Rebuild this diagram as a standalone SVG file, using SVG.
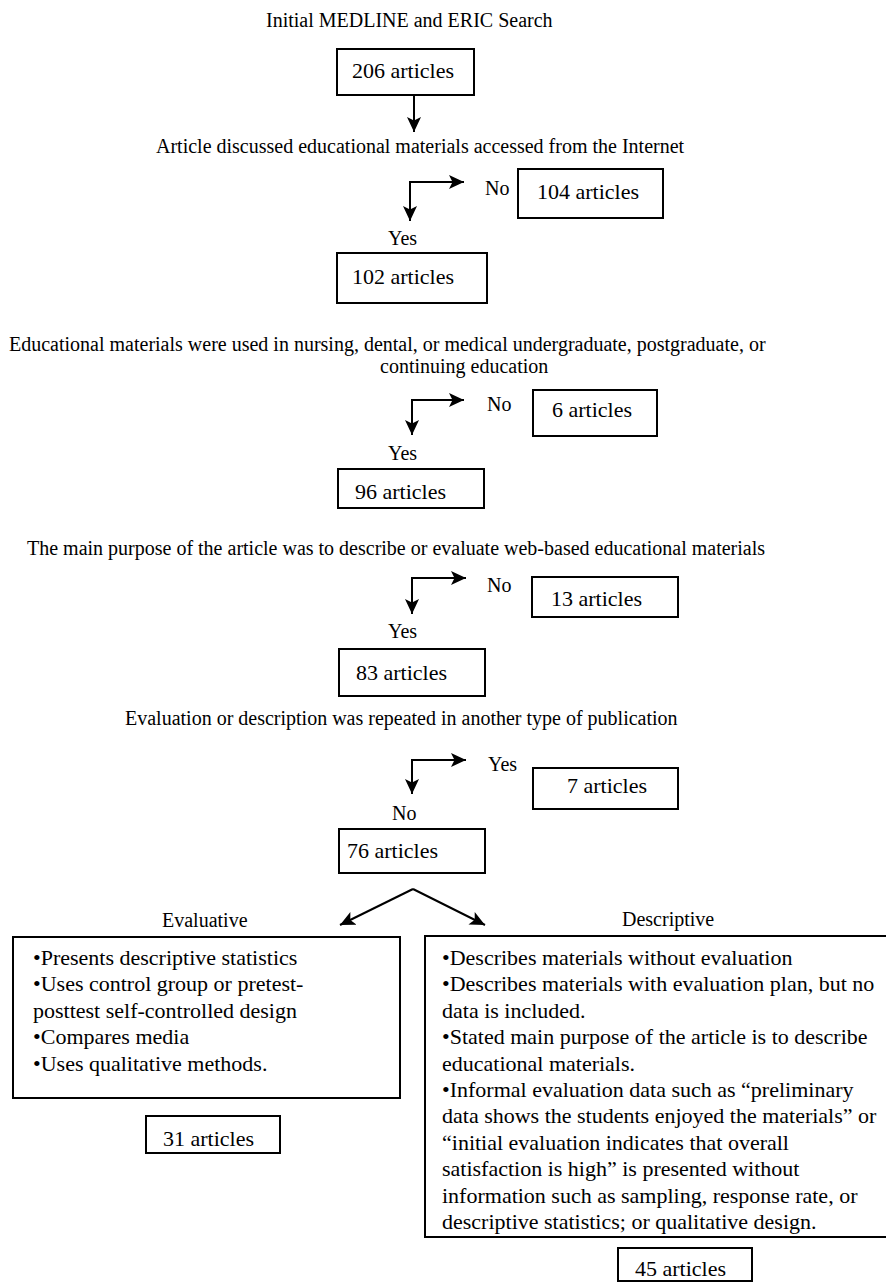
<svg xmlns="http://www.w3.org/2000/svg" width="886" height="1282" viewBox="0 0 886 1282">
<style>
text{font-family:"Liberation Serif","Times New Roman",serif;fill:#000}
.q{font-size:20px}
.b{font-size:22px}
.box{fill:none;stroke:#000;stroke-width:2}
.c{fill:none;stroke:#000;stroke-width:2}
</style>
<defs>
<marker id="ah" markerUnits="userSpaceOnUse" markerWidth="16" markerHeight="14" refX="15" refY="7" orient="auto">
<path d="M0,0 L15,7 L0,14 L3.5,7 z" fill="#000"/>
</marker>
</defs>
<rect width="886" height="1282" fill="#fff"/>
<g id="title"><text class="q" x="266" y="27">Initial MEDLINE and ERIC Search</text></g>
<g id="n206"><rect class="box" x="337" y="49" width="137" height="46"/><text class="b" x="352" y="78">206 articles</text></g>
<g id="q1"><text class="q" x="156" y="153">Article discussed educational materials accessed from the Internet</text></g>
<g id="n104"><rect class="box" x="518" y="169" width="145" height="49"/><text class="b" x="537" y="199">104 articles</text></g>
<g id="n102"><rect class="box" x="337" y="253" width="150" height="50"/><text class="b" x="352" y="284">102 articles</text></g>
<g id="q2"><text class="q" x="9" y="351">Educational materials were used in nursing, dental, or medical undergraduate, postgraduate, or</text><text class="q" x="380" y="373">continuing education</text></g>
<g id="n6"><rect class="box" x="533" y="390" width="124" height="46"/><text class="b" x="552" y="417">6 articles</text></g>
<g id="n96"><rect class="box" x="338" y="469" width="146" height="39"/><text class="b" x="355" y="499">96 articles</text></g>
<g id="q3"><text class="q" x="27" y="555">The main purpose of the article was to describe or evaluate web-based educational materials</text></g>
<g id="n13"><rect class="box" x="532" y="577" width="146" height="40"/><text class="b" x="551" y="606">13 articles</text></g>
<g id="n83"><rect class="box" x="339" y="649" width="146" height="47"/><text class="b" x="356" y="680">83 articles</text></g>
<g id="q4"><text class="q" x="125" y="725">Evaluation or description was repeated in another type of publication</text></g>
<g id="n7"><rect class="box" x="533" y="768" width="145" height="41"/><text class="b" x="567" y="793">7 articles</text></g>
<g id="n76"><rect class="box" x="339" y="829" width="146" height="44"/><text class="b" x="347" y="858">76 articles</text></g>
<g id="evaluative"><text class="q" x="162" y="927">Evaluative</text>
<rect class="box" x="13" y="937" width="387" height="161"/>
<text class="b" x="33" y="965">•Presents descriptive statistics</text>
<text class="b" x="33" y="991.4">•Uses control group or pretest-</text>
<text class="b" x="33" y="1017.8">posttest self-controlled design</text>
<text class="b" x="33" y="1044.2">•Compares media</text>
<text class="b" x="33" y="1070.6">•Uses qualitative methods.</text>
</g>
<g id="n31"><rect class="box" x="146" y="1116" width="134" height="37"/><text class="b" x="163" y="1146">31 articles</text></g>
<g id="descriptive"><text class="q" x="622" y="926">Descriptive</text>
<rect class="box" x="425" y="936" width="462" height="301"/>
<text class="b" x="442" y="965">•Describes materials without evaluation</text>
<text class="b" x="442" y="991.4">•Describes materials with evaluation plan, but no</text>
<text class="b" x="442" y="1017.8">data is included.</text>
<text class="b" x="442" y="1044.2">•Stated main purpose of the article is to describe</text>
<text class="b" x="442" y="1070.6">educational materials.</text>
<text class="b" x="442" y="1097">•Informal evaluation data such as “preliminary</text>
<text class="b" x="442" y="1123.4">data shows the students enjoyed the materials” or</text>
<text class="b" x="442" y="1149.8">“initial evaluation indicates that overall</text>
<text class="b" x="442" y="1176.2">satisfaction is high” is presented without</text>
<text class="b" x="442" y="1202.6">information such as sampling, response rate, or</text>
<text class="b" x="442" y="1229">descriptive statistics; or qualitative design.</text>
</g>
<g id="n45"><rect class="box" x="618" y="1248" width="134" height="33"/><text class="b" x="635" y="1276">45 articles</text></g>
<g id="labels">
<text class="q" x="485" y="195">No</text>
<text class="q" x="388" y="245">Yes</text>
<text class="q" x="487" y="411">No</text>
<text class="q" x="388" y="460">Yes</text>
<text class="q" x="487" y="592">No</text>
<text class="q" x="388" y="638">Yes</text>
<text class="q" x="488" y="771">Yes</text>
<text class="q" x="392" y="820">No</text>
</g>
<g id="connectors">
<path class="c" d="M414,95 V132" marker-end="url(#ah)"/>
<path class="c" d="M410,182 H464" marker-end="url(#ah)"/>
<path class="c" d="M410,181 V221" marker-end="url(#ah)"/>
<path class="c" d="M412,400 H464" marker-end="url(#ah)"/>
<path class="c" d="M412,399 V435" marker-end="url(#ah)"/>
<path class="c" d="M412,578 H466" marker-end="url(#ah)"/>
<path class="c" d="M412,577 V614" marker-end="url(#ah)"/>
<path class="c" d="M412,760 H466" marker-end="url(#ah)"/>
<path class="c" d="M412,759 V794" marker-end="url(#ah)"/>
<path class="c" d="M413,889 L340,925" marker-end="url(#ah)"/>
<path class="c" d="M413,889 L485,925" marker-end="url(#ah)"/>
</g>
</svg>
